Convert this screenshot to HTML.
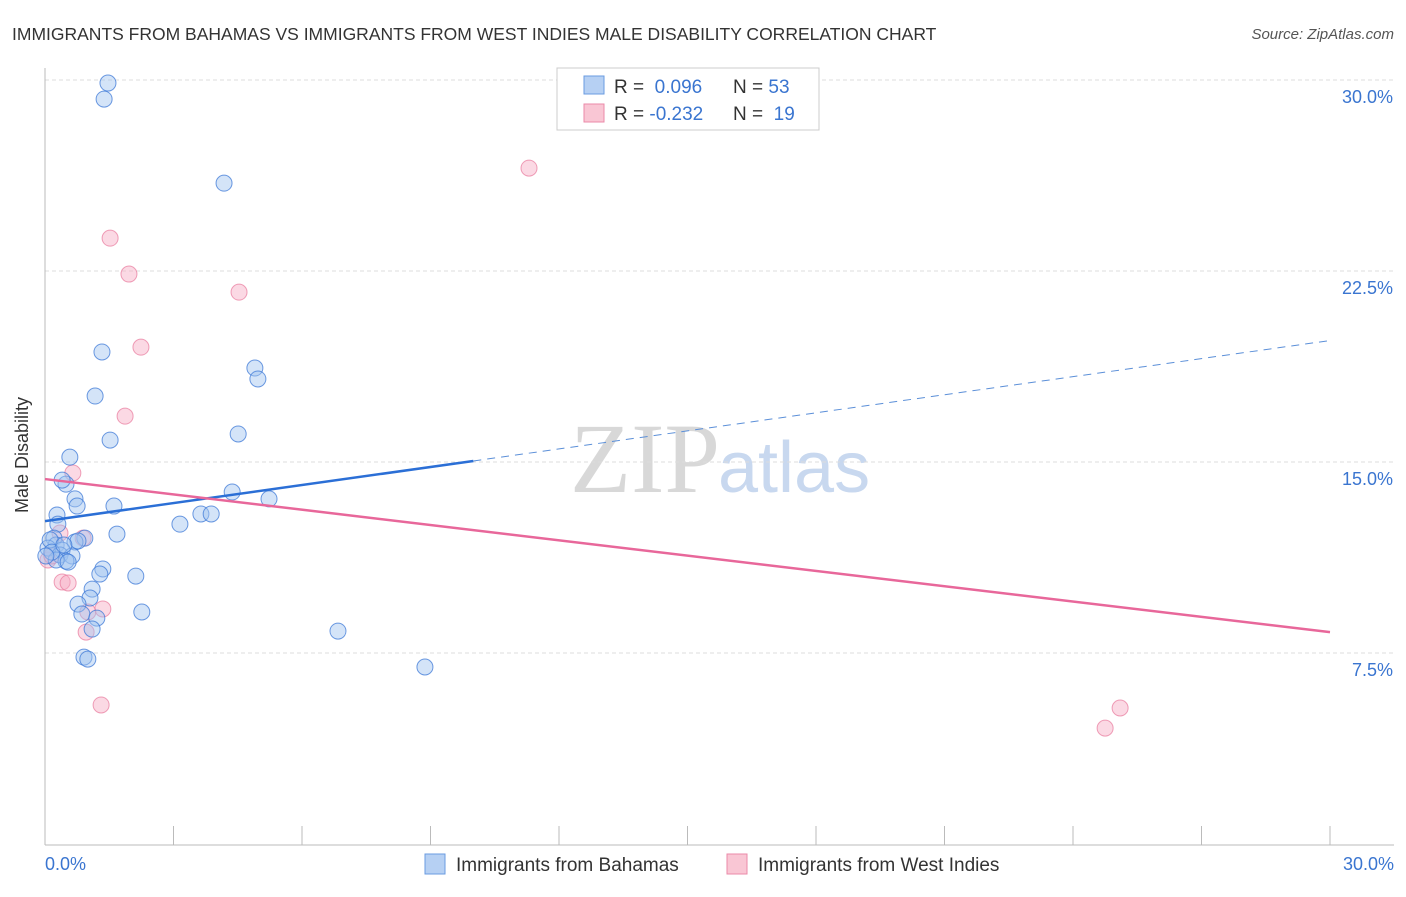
<!DOCTYPE html>
<html><head><meta charset="utf-8"><style>
body{margin:0;background:#fff;font-family:"Liberation Sans",sans-serif;}
</style></head><body>
<svg width="1406" height="892" xmlns="http://www.w3.org/2000/svg" id="svg">
<text x="12" y="40" font-size="17.5" fill="#333">IMMIGRANTS FROM BAHAMAS VS IMMIGRANTS FROM WEST INDIES MALE DISABILITY CORRELATION CHART</text>
<text x="1394" y="39" font-size="15" fill="#555" font-style="italic" text-anchor="end">Source: ZipAtlas.com</text>
<text x="720" y="492" font-size="100" fill="#d8d8d8" text-anchor="end" font-family="Liberation Serif">ZIP</text>
<text x="718" y="492" font-size="72" fill="#c8d8ef">atlas</text>
<g id="grid"></g>
<line x1="45" y1="68" x2="45" y2="845" stroke="#bbb"/>
<line x1="45" y1="845" x2="1394" y2="845" stroke="#bbb"/>
<g id="xt"></g>
<text x="28" y="455" font-size="18" fill="#333" transform="rotate(-90 28 455)" text-anchor="middle">Male Disability</text>
<text x="45" y="870" font-size="18" fill="#3a75d0">0.0%</text>
<text x="1394" y="870" font-size="18" fill="#3a75d0" text-anchor="end">30.0%</text>
<g id="pts"></g>
<g id="lines"></g>
<g>
<rect x="557" y="68" width="262" height="62" fill="#fff" stroke="#ccc"/>
<rect x="584" y="76" width="20" height="18" fill="#b6d0f3" stroke="#6a9be0"/>
<rect x="584" y="104" width="20" height="18" fill="#f9c6d4" stroke="#eb8aa8"/>
<text x="614" y="93" font-size="19" fill="#333">R = <tspan fill="#3a75d0">&#160;0.096</tspan><tspan x="733">N = </tspan><tspan fill="#3a75d0">53</tspan></text>
<text x="614" y="120" font-size="19" fill="#333">R = <tspan fill="#3a75d0">-0.232</tspan><tspan x="733">N = </tspan><tspan fill="#3a75d0">&#160;19</tspan></text>
</g>
<g>
<rect x="425" y="854" width="20" height="20" fill="#b6d0f3" stroke="#6a9be0"/>
<text x="456" y="871" font-size="19" fill="#333">Immigrants from Bahamas</text>
<rect x="727" y="854" width="20" height="20" fill="#f9c6d4" stroke="#eb8aa8"/>
<text x="758" y="871" font-size="19" fill="#333">Immigrants from West Indies</text>
</g>
</svg>
<script>
const yTicks=[7.5,15,22.5,30];
const yTickLabels=["7.5%","15.0%","22.5%","30.0%"];
const blueX=[1.47,1.38,4.18,1.33,1.17,4.90,4.97,1.52,4.51,0.58,0.49,0.40,0.70,0.75,1.61,4.37,5.23,3.64,3.88,3.15,0.28,0.30,1.68,0.93,0.21,0.26,0.70,0.77,0.40,0.07,0.35,0.63,0.49,0.26,0.54,1.35,1.28,2.12,1.10,1.05,0.77,2.26,0.86,1.21,1.10,6.84,0.91,1.00,8.87,0.12,0.16,0.44,0.02];
const blueY=[29.88,29.25,25.95,19.32,17.59,18.69,18.26,15.86,16.10,15.19,14.13,14.29,13.55,13.27,13.27,13.82,13.55,12.96,12.96,12.56,12.92,12.56,12.17,12.01,12.01,11.74,11.86,11.90,11.54,11.62,11.35,11.31,11.11,11.15,11.07,10.80,10.60,10.52,10.01,9.66,9.42,9.11,9.03,8.87,8.44,8.36,7.34,7.26,6.95,11.94,11.46,11.74,11.31];
const pinkX=[11.30,1.52,1.96,4.53,2.24,1.87,0.65,0.35,0.89,0.07,0.40,0.54,1.35,0.96,1.31,25.10,24.75,0.16,1.00];
const pinkY=[26.54,23.79,22.38,21.67,19.51,16.80,14.57,12.21,12.01,11.15,10.29,10.25,9.23,8.32,5.46,5.34,4.55,11.31,9.11];
const blueTrend=[[0,12.68],[10,15.04],[30,19.77]];
const pinkTrend=[[0,14.33],[30,8.32]];
const X0=45,X1=1330,Y0=844,Y1=80;
const sx=v=>X0+(X1-X0)*v/30, sy=v=>Y0+(Y1-Y0)*v/30;
const NS="http://www.w3.org/2000/svg";
function mk(t,a,p){const e=document.createElementNS(NS,t);for(const k in a)e.setAttribute(k,a[k]);p.appendChild(e);return e;}
const grid=document.getElementById('grid');
yTicks.forEach((t,i)=>{
 const l=mk('line',{x1:45,x2:1394,y1:sy(t),y2:sy(t),stroke:'#ddd','stroke-dasharray':'4,3'},grid);
 
 
 const tx=mk('text',{x:1393,y:sy(t)+23,'font-size':18,fill:'#3a75d0','text-anchor':'end'},grid);
 tx.textContent=yTickLabels[i];
 
 
});
const xt=document.getElementById('xt');
for(let i=0;i<=10;i++){
 const x=sx(i*3);
 const l=mk('line',{x1:x,x2:x,y1:826,y2:845,stroke:'#bbb'},xt);
 
 
}
const pts=document.getElementById('pts');
pinkX.forEach((v,i)=>{
 const c=mk('circle',{cx:sx(v),cy:sy(pinkY[i]),r:8,fill:'rgba(246,170,195,0.45)',stroke:'rgba(232,120,155,0.7)','stroke-width':1},pts);
 
 
});
blueX.forEach((v,i)=>{
 const c=mk('circle',{cx:sx(v),cy:sy(blueY[i]),r:8,fill:'rgba(160,195,240,0.45)',stroke:'rgba(60,120,215,0.75)','stroke-width':1},pts);
 
 
});
const lines=document.getElementById('lines');
let b1=mk('line',{x1:sx(blueTrend[0][0]),y1:sy(blueTrend[0][1]),x2:sx(blueTrend[1][0]),y2:sy(blueTrend[1][1]),stroke:'#2b6fd6','stroke-width':2.5},lines);


let b2=mk('line',{x1:sx(blueTrend[1][0]),y1:sy(blueTrend[1][1]),x2:sx(blueTrend[2][0]),y2:sy(blueTrend[2][1]),stroke:'#5b8fd8','stroke-width':1,'stroke-dasharray':'8,6'},lines);


let p1=mk('line',{x1:sx(pinkTrend[0][0]),y1:sy(pinkTrend[0][1]),x2:sx(pinkTrend[1][0]),y2:sy(pinkTrend[1][1]),stroke:'#e8679a','stroke-width':2.5},lines);


</script>
</body></html>
